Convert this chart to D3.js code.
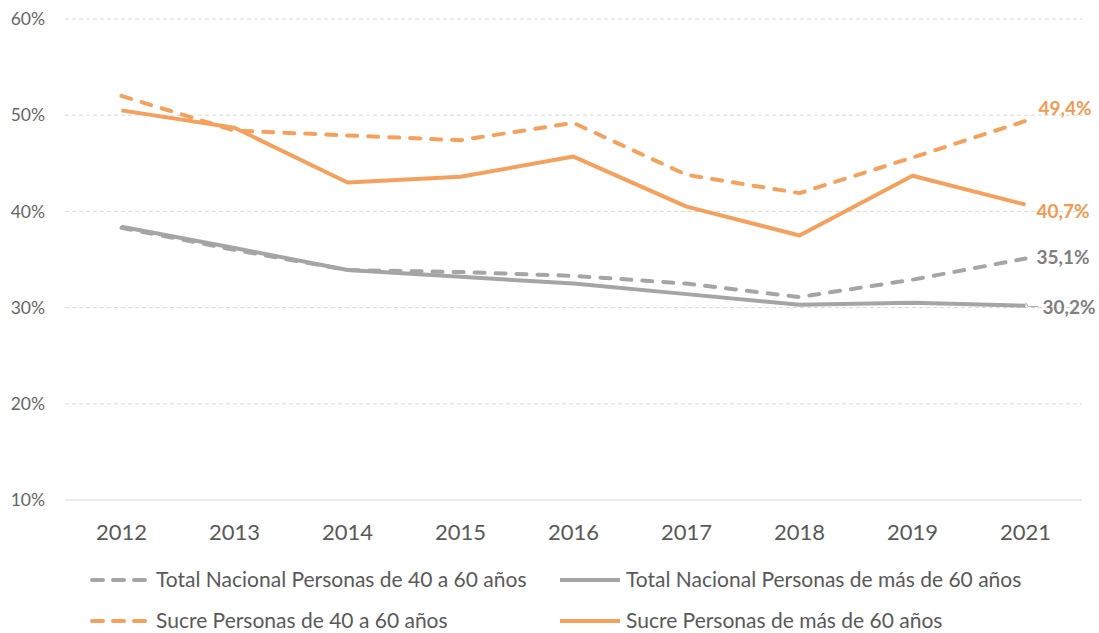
<!DOCTYPE html>
<html>
<head>
<meta charset="utf-8">
<script src="https://cdn.jsdelivr.net/npm/d3@7"></script>
<style>
  body { margin: 0; background: #fff; }
  svg { font-family: Lato, "Open Sans", sans-serif; }
</style>
</head>
<body>
<svg id="chart" width="1099" height="633"></svg>
<script>
// Data
const years = ['2012', '2013', '2014', '2015', '2016', '2017', '2018', '2019', '2021'];
const yTicks = [0.1, 0.2, 0.3, 0.4, 0.5, 0.6];

const nacional4060 = [38.3, 36.0, 33.9, 33.7, 33.3, 32.5, 31.1, 32.9, 35.1];
const nacionalMas60 = [38.4, 36.2, 33.9, 33.2, 32.5, 31.4, 30.3, 30.5, 30.2];
const sucre4060 = [52.0, 48.4, 47.9, 47.4, 49.2, 43.8, 41.9, 45.6, 49.4];
const sucreMas60 = [50.5, 48.7, 43.0, 43.6, 45.7, 40.5, 37.5, 43.7, 40.7];

const grey = '#a5a5a5';
const orange = '#f4a15d';
const textColor = '#595959';

const series = [
  { name: 'Total Nacional Personas de 40 a 60 años', values: nacional4060, color: grey, dash: '10,11' },
  { name: 'Total Nacional Personas de más de 60 años', values: nacionalMas60, color: grey, dash: null },
  { name: 'Sucre Personas de 40 a 60 años', values: sucre4060, color: orange, dash: '10,11' },
  { name: 'Sucre Personas de más de 60 años', values: sucreMas60, color: orange, dash: null }
];

const svg = d3.select('#chart');
const plotLeft = 65, plotRight = 1082, plotTop = 19, plotBottom = 500;

const x = d3.scaleBand().domain(years).range([plotLeft, plotRight]);
const y = d3.scaleLinear().domain([0.1, 0.6]).range([plotBottom, plotTop]);

// Gridlines
svg.append('g').selectAll('line')
  .data(yTicks)
  .enter().append('line')
  .attr('x1', plotLeft).attr('x2', plotRight)
  .attr('y1', d => y(d)).attr('y2', d => y(d))
  .style('stroke', '#d9d9d9')
  .style('stroke-width', 1)
  .style('stroke-dasharray', d => d === 0.1 ? null : '4,3');

// Y axis labels
svg.append('g').selectAll('text')
  .data(yTicks)
  .enter().append('text')
  .attr('x', 45)
  .attr('y', d => y(d))
  .attr('dy', '0.35em')
  .attr('text-anchor', 'end')
  .style('font-size', '17.5px')
  .style('fill', '#666')
  .text(d => d3.format('.0%')(d));

// X axis labels
svg.append('g').selectAll('text')
  .data(years)
  .enter().append('text')
  .attr('x', d => x(d) + x.bandwidth() / 2)
  .attr('y', 532)
  .attr('dy', '0.35em')
  .attr('text-anchor', 'middle')
  .style('font-size', '22px')
  .style('fill', textColor)
  .text(d => d);

// Lines
const line = d3.line()
  .x((d, i) => x(years[i]) + x.bandwidth() / 2)
  .y(d => y(d / 100));

svg.append('g').selectAll('path')
  .data(series)
  .enter().append('path')
  .attr('d', d => line(d.values))
  .style('fill', 'none')
  .style('stroke', d => d.color)
  .style('stroke-width', 4)
  .style('stroke-dasharray', d => d.dash)
  .style('stroke-linecap', d => d.dash ? 'round' : 'butt')
  .style('stroke-linejoin', 'round');

// End labels
const fmt = v => d3.format('.1f')(v).replace('.', ',') + '%';
const lastX = x(years[years.length - 1]) + x.bandwidth() / 2;
const endLabels = [
  { v: sucre4060[8], color: orange, dx: 13, dy: -13 },
  { v: sucreMas60[8], color: orange, dx: 11, dy: 7 },
  { v: nacional4060[8], color: grey, dx: 11, dy: -1 },
  { v: nacionalMas60[8], color: grey, dx: 17, dy: 2, leader: true }
];

endLabels.forEach(l => {
  const py = y(l.v / 100);
  if (l.leader) {
    svg.append('path')
      .attr('d', `M${lastX},${py - 3} L${lastX + 3},${py + 1} L${lastX + 13},${py + 1}`)
      .style('fill', 'none')
      .style('stroke', grey)
      .style('stroke-width', 1);
  }
  svg.append('text')
    .attr('x', lastX + l.dx)
    .attr('y', py + l.dy)
    .attr('dy', '0.35em')
    .style('font-size', '19px')
    .style('font-weight', 'bold')
    .style('fill', l.color === orange ? '#f29a52' : '#7f7f7f')
    .text(fmt(l.v));
});

// Legend
const legendPos = [
  { x: 90, y: 580 }, { x: 560, y: 580 },
  { x: 90, y: 621 }, { x: 560, y: 621 }
];
const legend = svg.append('g').selectAll('g')
  .data(series)
  .enter().append('g')
  .attr('transform', (d, i) => `translate(${legendPos[i].x},${legendPos[i].y})`);

legend.append('line')
  .attr('x1', d => d.dash ? 2 : 0).attr('x2', d => d.dash ? 60 : 60)
  .attr('y1', 0).attr('y2', 0)
  .style('stroke', d => d.color)
  .style('stroke-width', 4)
  .style('stroke-dasharray', d => d.dash ? '11,10' : null)
  .style('stroke-linecap', d => d.dash ? 'round' : 'butt');

legend.append('text')
  .attr('x', 66)
  .attr('y', 0)
  .attr('dy', '0.35em')
  .style('font-size', '21px')
  .style('fill', textColor)
  .text(d => d.name);
</script>
</body>
</html>
